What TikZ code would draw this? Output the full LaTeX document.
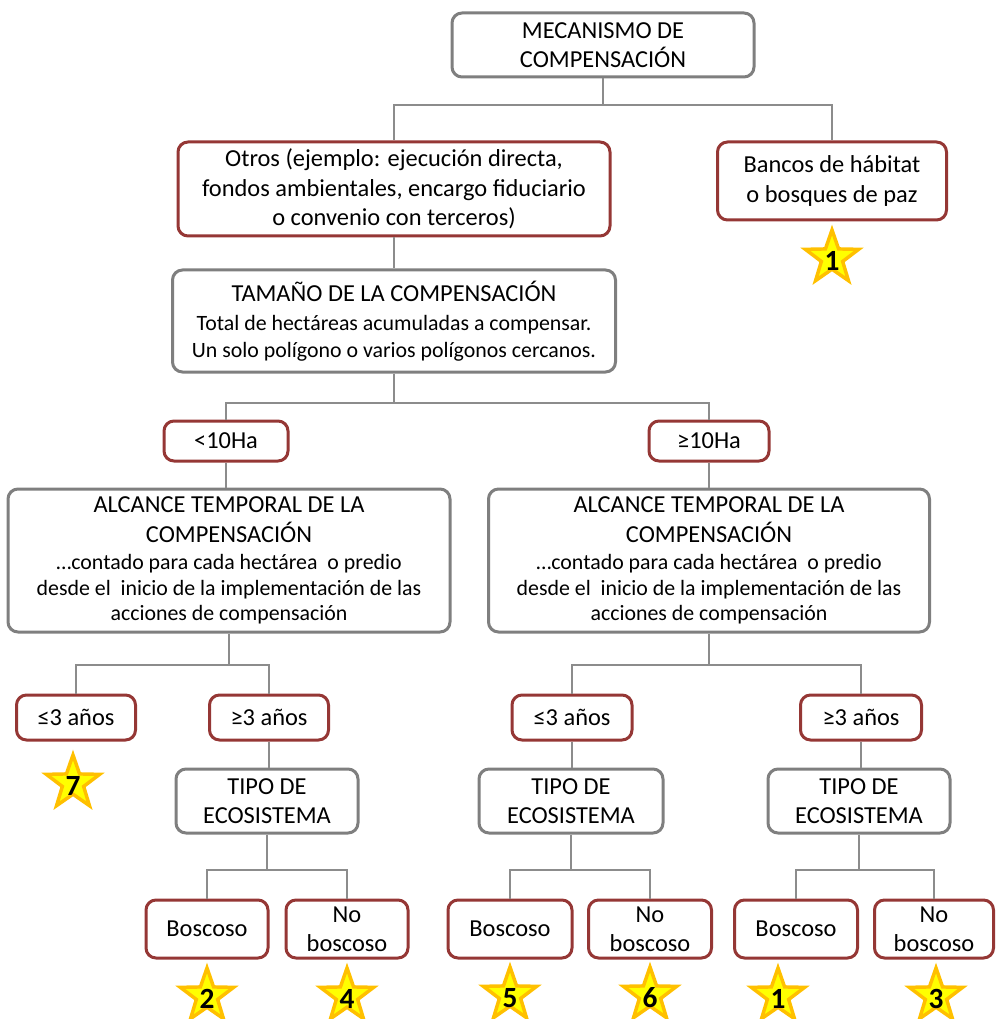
\documentclass[tikz,border=0pt]{standalone}
\usepackage{fontspec}
\setmainfont{Carlito}
\usetikzlibrary{shapes.geometric}
\definecolor{boxgray}{HTML}{7F7F7F}
\definecolor{boxred}{HTML}{953735}
\definecolor{linegray}{HTML}{8C8C8C}
\definecolor{stargold}{HTML}{FFC000}
\definecolor{staryellow}{HTML}{FFFF00}
\newcommand\fbig{\fontsize{18.3}{22}\selectfont}
\newcommand\fsmall{\fontsize{16.4}{20}\selectfont}
\tikzset{
 basebox/.style={rectangle, rounded corners=7.5pt, line width=2.25pt, fill=white, align=center, inner sep=0pt, font=\fbig},
 graybox/.style={basebox, draw=boxgray},
 redbox/.style={basebox, draw=boxred},
 conn/.style={draw=linegray, line width=1.9pt},
 starshape/.style={star, star points=5, star point ratio=2.5, minimum size=42pt, inner sep=0pt, fill=staryellow, draw=stargold, line width=2.6pt},
 starnum/.style={font=\bfseries\fontsize{22}{22}\selectfont, inner sep=0pt, text=black},
 sz/.style 2 args={minimum width=#1*0.75pt, minimum height=#2*0.75pt}
}
\begin{document}
\begin{tikzpicture}[x=0.75pt,y=-0.75pt]
\useasboundingbox (0,0) rectangle (995,1019);
% boxes
\node[graybox, sz={302}{64}] (top) at (603,45) {MECANISMO DE\\COMPENSACIÓN};
\node[redbox, sz={432}{94}] (otros) at (394,189) {Otros (ejemplo: ejecución directa,\\fondos ambientales, encargo fiduciario\\o convenio con terceros)};
\node[redbox, sz={229}{78}] (bancos) at (832,181) {Bancos de hábitat\\o bosques de paz};
\node[graybox, sz={443}{102}] (tam) at (394,321) {TAMAÑO DE LA COMPENSACIÓN\\\fsmall Total de hectáreas acumuladas a compensar.\\[-2.2pt]\fsmall Un solo polígono o varios polígonos cercanos.};
\node[redbox, sz={124}{40}] (lt10) at (226,441) {<10Ha};
\node[redbox, sz={120}{40}] (ge10) at (709,441) {≥10Ha};
\node[graybox, sz={442}{143}] (alcL) at (229,560.5) {ALCANCE TEMPORAL DE LA\\COMPENSACIÓN\\[-1.5pt]\fsmall …contado para cada hectárea\ \ o predio\\[-2.5pt]\fsmall desde el\ \ inicio de la implementación de las\\[-3.2pt]\fsmall acciones de compensación};
\node[graybox, sz={441}{143}] (alcR) at (709,560.5) {ALCANCE TEMPORAL DE LA\\COMPENSACIÓN\\[-1.5pt]\fsmall …contado para cada hectárea\ \ o predio\\[-2.5pt]\fsmall desde el\ \ inicio de la implementación de las\\[-3.2pt]\fsmall acciones de compensación};
\node[redbox, sz={119}{45}] (le3L) at (76,717.5) {≤3 años};
\node[redbox, sz={119}{45}] (ge3L) at (269,717.5) {≥3 años};
\node[redbox, sz={120}{45}] (le3R) at (572,717.5) {≤3 años};
\node[redbox, sz={121}{45}] (ge3R) at (861,717.5) {≥3 años};
\node[graybox, sz={182}{64}] (tipoL) at (267,801) {TIPO DE\\ECOSISTEMA};
\node[graybox, sz={184}{64}] (tipoR1) at (571,801) {TIPO DE\\ECOSISTEMA};
\node[graybox, sz={182}{64}] (tipoR2) at (859,801) {TIPO DE\\ECOSISTEMA};
\node[redbox, sz={122}{58}] (bosL) at (207,929) {Boscoso};
\node[redbox, sz={122}{58}] (nbL) at (347,929) {No\\boscoso};
\node[redbox, sz={124}{58}] (bosR1) at (510,929) {Boscoso};
\node[redbox, sz={123}{58}] (nbR1) at (650,929) {No\\boscoso};
\node[redbox, sz={123}{58}] (bosR2) at (796,929) {Boscoso};
\node[redbox, sz={119}{58}] (nbR2) at (934,929) {No\\boscoso};
% connectors
\coordinate (j1) at (603,105);
\draw[conn] (top.south) -- (j1) -| (otros.north);
\draw[conn] (j1) -| (bancos.north);
\draw[conn] (otros.south) -- (otros.south |- tam.north);
\coordinate (j2) at (394,403);
\draw[conn] (tam.south) -- (j2) -| (lt10.north);
\draw[conn] (j2) -| (ge10.north);
\draw[conn] (lt10.south) -- (lt10.south |- alcL.north);
\draw[conn] (ge10.south) -- (ge10.south |- alcR.north);
\coordinate (j3) at (229,665);
\draw[conn] (alcL.south) -- (j3) -| (le3L.north);
\draw[conn] (j3) -| (ge3L.north);
\coordinate (j5) at (709,665);
\draw[conn] (alcR.south) -- (j5) -| (le3R.north);
\draw[conn] (j5) -| (ge3R.north);
\draw[conn] (ge3L.south) -- (ge3L.south |- tipoL.north);
\draw[conn] (le3R.south) -- (le3R.south |- tipoR1.north);
\draw[conn] (ge3R.south) -- (ge3R.south |- tipoR2.north);
\coordinate (j4) at (267,870);
\draw[conn] (tipoL.south) -- (j4) -| (bosL.north);
\draw[conn] (j4) -| (nbL.north);
\coordinate (j6) at (571,870);
\draw[conn] (tipoR1.south) -- (j6) -| (bosR1.north);
\draw[conn] (j6) -| (nbR1.north);
\coordinate (j7) at (859,870);
\draw[conn] (tipoR2.south) -- (j7) -| (bosR2.north);
\draw[conn] (j7) -| (nbR2.north);
% stars
\node[starshape] (sa) at (832,258) {};
\node[starnum] (sat) at (832,261) {1};
\node[starshape] (sb) at (73,783) {};
\node[starnum] (sbt) at (73,786) {7};
\node[starshape] (sc) at (207,996) {};
\node[starnum] (sct) at (207,999) {2};
\node[starshape] (sd) at (347,996) {};
\node[starnum] (sdt) at (347,999) {4};
\node[starshape] (se) at (510,995) {};
\node[starnum] (set) at (510,998) {5};
\node[starshape] (sf) at (650,995) {};
\node[starnum] (sft) at (650,998) {6};
\node[starshape] (sg) at (778,996) {};
\node[starnum] (sgt) at (778,999) {1};
\node[starshape] (sh) at (936,996) {};
\node[starnum] (sht) at (936,999) {3};
\end{tikzpicture}
\end{document}
